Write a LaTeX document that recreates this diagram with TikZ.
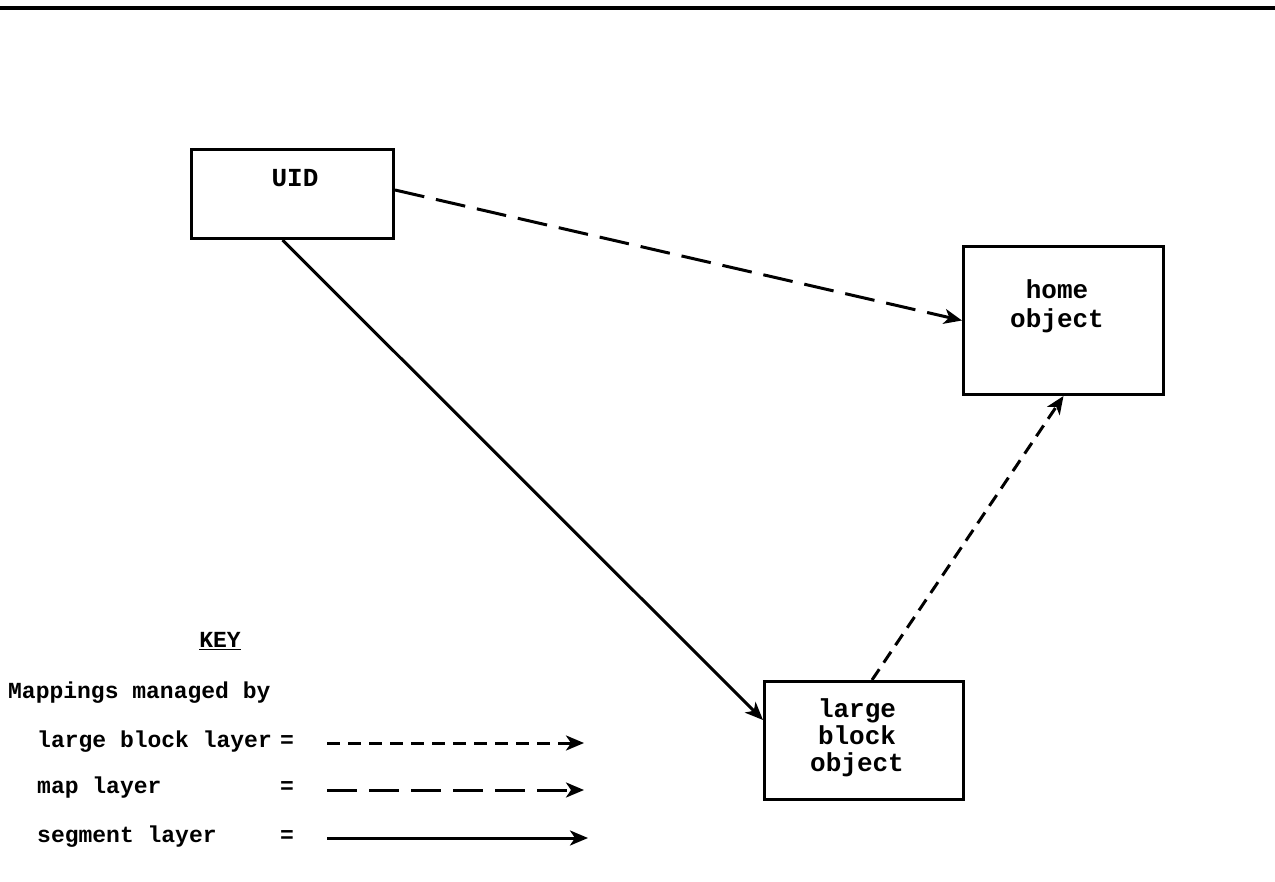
\documentclass[tikz,border=0pt]{standalone}
\usepackage{fontspec}
\setmainfont{Liberation Mono}
\usetikzlibrary{arrows.meta}
\begin{document}
\begin{tikzpicture}[x=1pt,y=-1pt,
  box/.style={draw,line width=3pt,minimum width=#1,inner sep=0pt,anchor=north west},
  lbl/.style={font=\fontsize{26}{30}\selectfont\bfseries,inner sep=0pt,align=center},
  keytxt/.style={font=\fontsize{23}{30}\selectfont\bfseries,inner sep=0pt,anchor=west},
  tip/.style={-{Stealth[length=18pt,width=15pt,inset=5pt]}},
  seg/.style={line width=3pt,tip},
  mapl/.style={line width=3pt,tip,dash pattern=on 30pt off 12pt},
  lbl2/.style={line width=3pt,tip,dash pattern=on 13pt off 8pt}]
\useasboundingbox (0,0) rectangle (1275,882);
\draw[line width=3.5pt] (0,8) -- (1275,8);
% boxes
\node[box=202pt,minimum height=89pt] (uid) at (190,148) {};
\node[box=200pt,minimum height=148pt] (home) at (962,245) {};
\node[box=199pt,minimum height=118pt] (lbo) at (763,680) {};
\node[lbl] (uidt) at (295,178) {UID};
\node[lbl] (homet) at (1057,306) {home\\[-1pt]object};
\node[lbl] (lbot) at (857,738) {large\\[-3pt]block\\[-3pt]object};
% connectors
\path (uid.east) ++(0,-4) coordinate (m1);
\path (uid.south) ++(-10,0) coordinate (s1);
\path (lbo.north) ++(8,0) coordinate (l1);
\draw[mapl] (m1) -- (home.west);
\draw[seg] (s1) -- (lbo.west |- 0,720);
\draw[lbl2] (l1) -- (home.south);
% key
\node[keytxt,anchor=center] (key) at (220,641) {\underline{KEY}};
\node[keytxt] (kmap) at (8,693) {Mappings managed by};
\node[keytxt] (k1) at (37,742) {large block layer};
\node[keytxt] (k2) at (37,788) {map layer};
\node[keytxt] (k3) at (37,837) {segment layer};
\node[keytxt] (e1) at (280,742) {=};
\node[keytxt] (e2) at (280,788) {=};
\node[keytxt] (e3) at (280,837) {=};
\coordinate (a1s) at (327,743); \coordinate (a1e) at (584,743);
\coordinate (a2s) at (327,790); \coordinate (a2e) at (584,790);
\coordinate (a3s) at (327,838); \coordinate (a3e) at (588,838);
\draw[lbl2] (a1s) -- (a1e);
\draw[mapl] (a2s) -- (a2e);
\draw[seg] (a3s) -- (a3e);
\end{tikzpicture}
\end{document}
